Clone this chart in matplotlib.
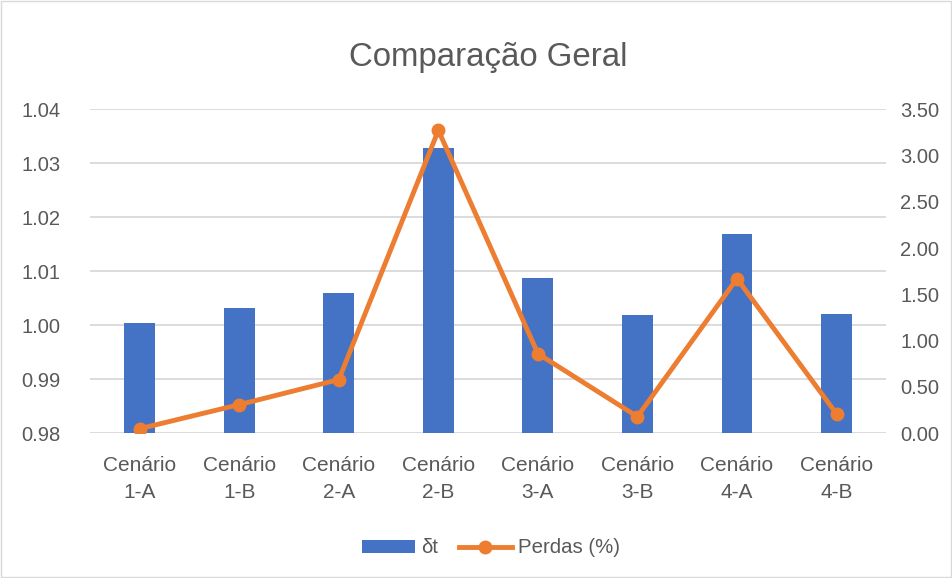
import matplotlib

matplotlib.use("Agg")
import matplotlib.pyplot as plt
from matplotlib.lines import Line2D
from matplotlib.patches import Patch, Rectangle
import numpy as np

categories = ["Cenário\n1-A", "Cenário\n1-B", "Cenário\n2-A", "Cenário\n2-B",
              "Cenário\n3-A", "Cenário\n3-B", "Cenário\n4-A", "Cenário\n4-B"]
delta_t = [1.0005, 1.0031, 1.0059, 1.0327, 1.0087, 1.0018, 1.0168, 1.0021]
perdas = [0.05, 0.31, 0.58, 3.27, 0.86, 0.18, 1.67, 0.21]

left_ticks = [0.98, 0.99, 1.00, 1.01, 1.02, 1.03, 1.04]
right_ticks = [0.0, 0.5, 1.0, 1.5, 2.0, 2.5, 3.0, 3.5]

BLUE = "#4472C4"
ORANGE = "#ED7D31"
GRID = "#D9D9D9"
TEXT = "#595959"

plt.rcParams["font.family"] = ["Liberation Sans", "DejaVu Sans"]

fig = plt.figure(figsize=(9.53, 5.78), dpi=100)
fig.patches.append(Rectangle((0.001, 0.002), 0.997, 0.996, transform=fig.transFigure,
                             fill=False, edgecolor=GRID, linewidth=1))

ax = fig.add_axes([0.0944, 0.2503, 0.8356, 0.5611])
x = np.arange(len(categories))
ax.bar(x, [v - 0.98 for v in delta_t], bottom=0.98, width=0.31, color=BLUE, zorder=2)
ax.set_ylim(0.98, 1.04)
ax.set_xlim(-0.5, len(categories) - 0.5)
ax.set_yticks(left_ticks)
ax.set_yticklabels([f"{t:.2f}" for t in left_ticks])
ax.set_xticks(x)
ax.set_xticklabels(categories)
ax.yaxis.grid(True, color=GRID, linewidth=1.3, zorder=0)
ax.set_axisbelow(True)
for s in ax.spines.values():
    s.set_visible(False)
ax.tick_params(axis="y", length=0, colors=TEXT, labelsize=14.5, pad=21)
ax.tick_params(axis="x", length=0, colors=TEXT, labelsize=15, pad=16)
for lbl in ax.get_xticklabels():
    lbl.set_linespacing(1.55)

ax2 = ax.twinx()
ax2.plot(x, perdas, color=ORANGE, linewidth=3.5, marker="o", markersize=9, zorder=3)
ax2.set_ylim(0, 3.5)
ax2.set_yticks(right_ticks)
ax2.set_yticklabels([f"{t:.2f}" for t in right_ticks])
for s in ax2.spines.values():
    s.set_visible(False)
ax2.tick_params(axis="y", length=0, colors=TEXT, labelsize=14.5, pad=10)

fig.text(0.512, 0.9, "Comparação Geral", ha="center", va="center", fontsize=23.8, color=TEXT)

handles = [Patch(facecolor=BLUE, label="δt"),
           Line2D([0], [0], color=ORANGE, linewidth=3.5, marker="o", markersize=9, label="Perdas (%)")]
fig.legend(handles=handles, loc="center", bbox_to_anchor=(0.515, 0.052), ncol=2, frameon=False,
           fontsize=14.7, labelcolor=TEXT, handlelength=2.6, handleheight=0.6,
           columnspacing=1.0, handletextpad=0.3)

fig.savefig("out.png", dpi=100)
